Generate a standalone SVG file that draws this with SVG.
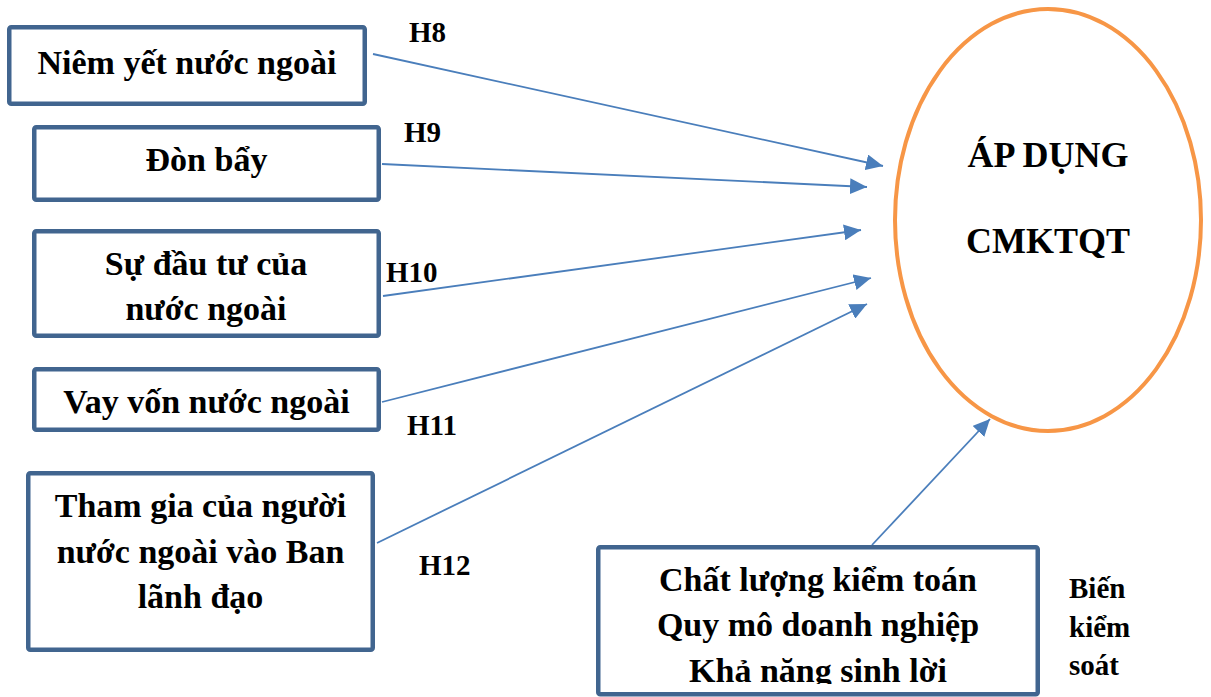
<svg xmlns="http://www.w3.org/2000/svg" width="1211" height="697" viewBox="0 0 1211 697">
  <style>
    .box { fill: #ffffff; stroke: #41658F; stroke-width: 4.5; }
    .txt { font-family: "Liberation Serif", "Times New Roman", serif; font-weight: bold; font-size: 34px; fill: #000000; text-anchor: middle; }
    .lbl { font-family: "Liberation Serif", "Times New Roman", serif; font-weight: bold; font-size: 29px; fill: #000000; }
    .big { font-size: 36px; }
    .conn { stroke: #4A7EBB; stroke-width: 1.8; fill: none; marker-end: url(#head); }
  </style>
  <defs>
    <marker id="head" markerUnits="userSpaceOnUse" markerWidth="18" markerHeight="16" refX="17" refY="8" orient="auto">
      <path d="M0,0 L17,8 L0,16 Z" fill="#4A7EBB"/>
    </marker>
    <clipPath id="ctrlClip">
      <rect x="600" y="549" width="436" height="135"/>
    </clipPath>
  </defs>
  <rect width="1211" height="697" fill="#ffffff"/>

  <!-- connectors -->
  <g id="connectors">
    <line class="conn" x1="373" y1="54" x2="883" y2="166"/>
    <line class="conn" x1="382" y1="164" x2="867" y2="187"/>
    <line class="conn" x1="383" y1="296" x2="861" y2="230"/>
    <line class="conn" x1="382" y1="402" x2="871" y2="278"/>
    <line class="conn" x1="377" y1="543" x2="867" y2="304"/>
    <line class="conn" x1="872" y1="545" x2="990" y2="419"/>
    <text class="lbl" x="409" y="42">H8</text>
    <text class="lbl" x="404" y="142">H9</text>
    <text class="lbl" x="386" y="282">H10</text>
    <text class="lbl" x="407" y="435">H11</text>
    <text class="lbl" x="419" y="575">H12</text>
  </g>

  <g id="niem-yet">
    <rect class="box" x="9.25" y="27.25" width="355.5" height="76.5" rx="2"/>
    <text class="txt" x="187" y="74">Niêm yết nước ngoài</text>
  </g>

  <g id="don-bay">
    <rect class="box" x="34.25" y="127.25" width="344.5" height="72.5" rx="2"/>
    <text class="txt" x="206.5" y="171">Đòn bẩy</text>
  </g>

  <g id="dau-tu">
    <rect class="box" x="34.25" y="231.25" width="344.5" height="104.5" rx="2"/>
    <text class="txt" x="206" y="275">Sự đầu tư của</text>
    <text class="txt" x="206" y="320">nước ngoài</text>
  </g>

  <g id="vay-von">
    <rect class="box" x="34.25" y="369.25" width="344.5" height="60.5" rx="2"/>
    <text class="txt" x="206.5" y="413">Vay vốn nước ngoài</text>
  </g>

  <g id="ban-lanh-dao">
    <rect class="box" x="28.25" y="473.25" width="344.5" height="176.5" rx="2"/>
    <text class="txt" x="200.5" y="517">Tham gia của người</text>
    <text class="txt" x="200.5" y="563">nước ngoài vào Ban</text>
    <text class="txt" x="200.5" y="608">lãnh đạo</text>
  </g>

  <g id="ap-dung">
    <ellipse cx="1048" cy="220" rx="153" ry="211" fill="#ffffff" stroke="#F79646" stroke-width="4"/>
    <text class="txt big" x="1048" y="167">ÁP DỤNG</text>
    <text class="txt big" x="1048" y="253">CMKTQT</text>
  </g>

  <g id="bien-kiem-soat">
    <rect class="box" x="598.25" y="547.25" width="439.5" height="147" rx="2"/>
    <g clip-path="url(#ctrlClip)">
      <text class="txt" x="818" y="591">Chất lượng kiểm toán</text>
      <text class="txt" x="818" y="636">Quy mô doanh nghiệp</text>
      <text class="txt" x="818" y="682">Khả năng sinh lời</text>
    </g>
    <text class="lbl" x="1069" y="598">Biến</text>
    <text class="lbl" x="1069" y="637">kiểm</text>
    <text class="lbl" x="1069" y="675">soát</text>
  </g>
</svg>
